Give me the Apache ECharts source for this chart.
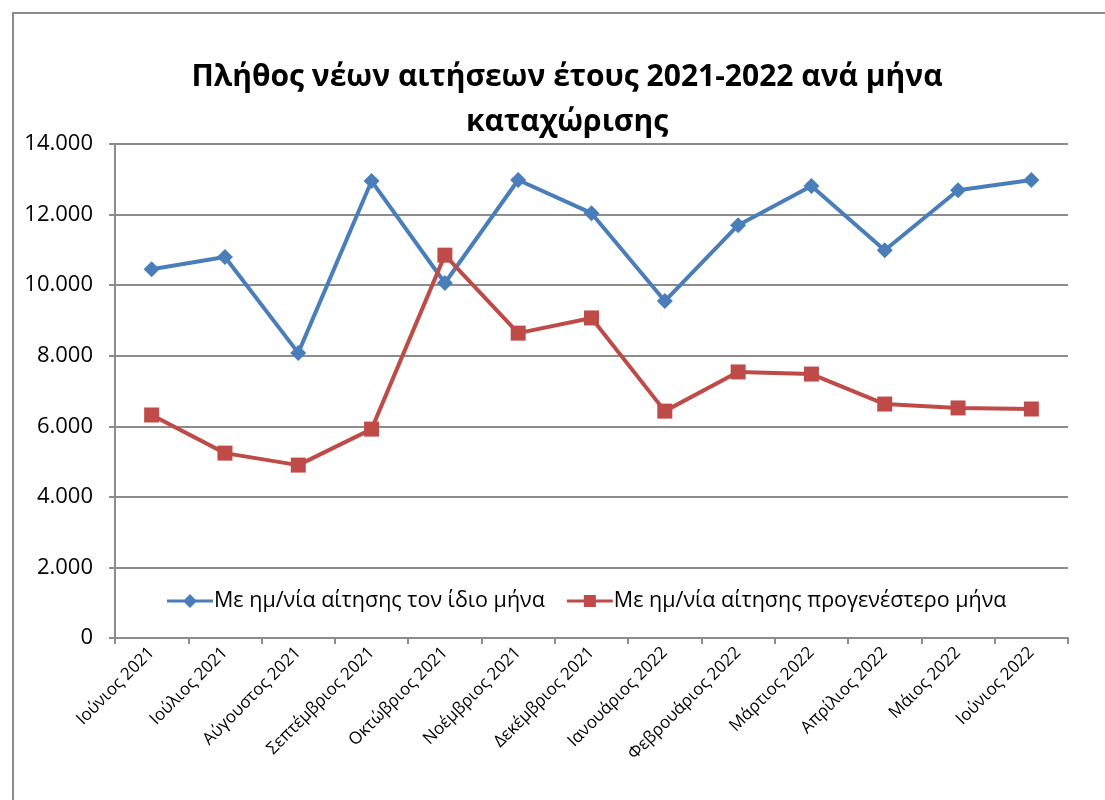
<!DOCTYPE html>
<html>
<head>
<meta charset="utf-8">
<script src="https://cdn.jsdelivr.net/npm/echarts@6/dist/echarts.min.js"></script>
<style>
  html, body { margin: 0; padding: 0; background: #fff; }
  #frame { position: absolute; left: 12px; top: 12px; width: 1110px; height: 800px; border: 2px solid #8c8c8c; box-sizing: border-box; }
  #chart { position: absolute; left: 0; top: 0; width: 1105px; height: 800px; }
</style>
</head>
<body>
<div id="frame"></div>
<div id="chart"></div>
<script>
var months = ['Ιούνιος 2021', 'Ιούλιος 2021', 'Αύγουστος 2021', 'Σεπτέμβριος 2021', 'Οκτώβριος 2021',
    'Νοέμβριος 2021', 'Δεκέμβριος 2021', 'Ιανουάριος 2022', 'Φεβρουάριος 2022', 'Μάρτιος 2022',
    'Απρίλιος 2022', 'Μάιος 2022', 'Ιούνιος 2022'];
var sameMonth = [10450, 10800, 8080, 12950, 10060, 12980, 12040, 9550, 11700, 12810, 10990, 12690, 12980];
var earlierMonth = [6320, 5240, 4900, 5920, 10850, 8640, 9070, 6430, 7540, 7480, 6630, 6520, 6490];
var seriesNames = ['Με ημ/νία αίτησης τον ίδιο μήνα', 'Με ημ/νία αίτησης προγενέστερο μήνα'];

var FONT = '"Open Sans", "Noto Sans", sans-serif';

function fmt(v) {
    return String(v).replace(/\B(?=(\d{3})+(?!\d))/g, '.');
}

var myChart = echarts.init(document.getElementById('chart'));
var option = {
    animation: false,
    title: {
        text: 'Πλήθος νέων αιτήσεων έτους 2021-2022 ανά μήνα\nκαταχώρισης',
        left: 562,
        top: 50,
        textAlign: 'center',
        textStyle: { fontFamily: FONT, fontSize: 30, fontWeight: 'bold', color: '#000', lineHeight: 45 }
    },
    legend: {
        data: [
            { name: seriesNames[0], icon: 'path://M0,8.5L46,8.5L46,11.5L0,11.5Z M23,3L30,10L23,17L16,10Z' },
            { name: seriesNames[1], icon: 'path://M0,8.5L46,8.5L46,11.5L0,11.5Z M17,4L29,4L29,16L17,16Z' }
        ],
        left: 162,
        top: 585,
        itemWidth: 46,
        itemHeight: 20,
        itemGap: 22,
        textStyle: { fontFamily: FONT, fontSize: 21.5, color: '#000', padding: [0, 0, 0, -4] }
    },
    grid: { left: 115, right: 37, top: 144, bottom: 162 },
    xAxis: {
        type: 'category',
        data: months,
        boundaryGap: true,
        axisLine: { lineStyle: { color: '#8c8c8c', width: 2 } },
        axisTick: { show: true, length: 6, lineStyle: { color: '#8c8c8c', width: 2 } },
        axisLabel: { rotate: 45, interval: 0, margin: 12, fontFamily: FONT, fontSize: 17, color: '#000' }
    },
    yAxis: {
        type: 'value',
        min: 0,
        max: 14000,
        interval: 2000,
        axisLine: { show: true, lineStyle: { color: '#8c8c8c', width: 2 } },
        axisTick: { show: true, length: 6, lineStyle: { color: '#8c8c8c', width: 2 } },
        splitLine: { lineStyle: { color: '#8c8c8c', width: 2 } },
        axisLabel: { margin: 22, fontFamily: FONT, fontSize: 22, color: '#000', formatter: fmt }
    },
    series: [
        {
            name: seriesNames[0],
            type: 'line',
            data: sameMonth,
            symbol: 'diamond',
            symbolSize: 16,
            lineStyle: { color: '#4a7ebb', width: 4 },
            itemStyle: { color: '#4a7ebb' }
        },
        {
            name: seriesNames[1],
            type: 'line',
            data: earlierMonth,
            symbol: 'rect',
            symbolSize: 15,
            lineStyle: { color: '#be4b48', width: 4 },
            itemStyle: { color: '#be4b48' }
        }
    ]
};
myChart.setOption(option);
</script>
</body>
</html>
